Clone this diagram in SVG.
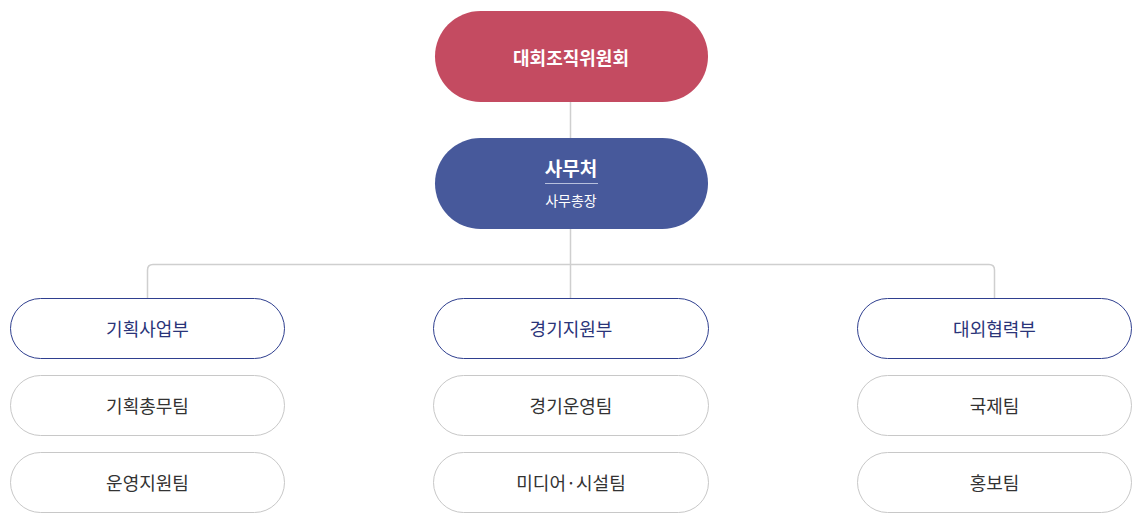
<svg xmlns="http://www.w3.org/2000/svg" width="1142" height="524" viewBox="0 0 1142 524">
<style>
text{font-family:"Noto Sans CJK KR","Noto Sans",sans-serif;text-anchor:middle;dominant-baseline:central}
.dept rect{fill:#fff;stroke:#2f3f8f;stroke-width:1}
.dept text{fill:#2a3479;font-size:18px}
.team rect{fill:#fff;stroke:#c8c8c8;stroke-width:1}
.team text{fill:#333;font-size:18px}
#connectors path{fill:none;stroke:#cfcfcf;stroke-width:1.5}
</style>
<g id="connectors">
<path d="M570.5 102V138M570.5 229V298M147.5 298V270Q147.5 264.5 153 264.5H989Q994.5 264.5 994.5 270V298"/>
</g>
<g id="n-committee"><rect x="435" y="11" width="273" height="91" rx="45.5" fill="#c44b61"/><text x="571" y="57" fill="#fff" font-size="18" font-weight="bold">대회조직위원회</text></g>
<g id="n-secretariat"><rect x="435" y="138" width="273" height="91" rx="45.5" fill="#47599b"/><text x="571" y="167" fill="#fff" font-size="19" font-weight="bold">사무처</text><line x1="545" y1="183.5" x2="598" y2="183.5" stroke="#b7c0dd" stroke-width="1"/><text x="571" y="200" fill="#fff" font-size="14">사무총장</text></g>
<g id="n-d1" class="dept"><rect x="10.5" y="298.5" width="274" height="60" rx="30"/><text x="147.5" y="328">기획사업부</text></g>
<g id="n-d2" class="dept"><rect x="433.5" y="298.5" width="275" height="60" rx="30"/><text x="571" y="328">경기지원부</text></g>
<g id="n-d3" class="dept"><rect x="857.5" y="298.5" width="274" height="60" rx="30"/><text x="994.5" y="328">대외협력부</text></g>
<g id="n-t1" class="team"><rect x="10.5" y="375.5" width="274" height="60" rx="30"/><text x="147.5" y="405">기획총무팀</text></g>
<g id="n-t2" class="team"><rect x="10.5" y="452.5" width="274" height="60" rx="30"/><text x="147.5" y="482">운영지원팀</text></g>
<g id="n-t3" class="team"><rect x="433.5" y="375.5" width="275" height="60" rx="30"/><text x="571" y="405">경기운영팀</text></g>
<g id="n-t4" class="team"><rect x="433.5" y="452.5" width="275" height="60" rx="30"/><text x="571" y="482">미디어·시설팀</text></g>
<g id="n-t5" class="team"><rect x="857.5" y="375.5" width="274" height="60" rx="30"/><text x="994.5" y="405">국제팀</text></g>
<g id="n-t6" class="team"><rect x="857.5" y="452.5" width="274" height="60" rx="30"/><text x="994.5" y="482">홍보팀</text></g>
</svg>
